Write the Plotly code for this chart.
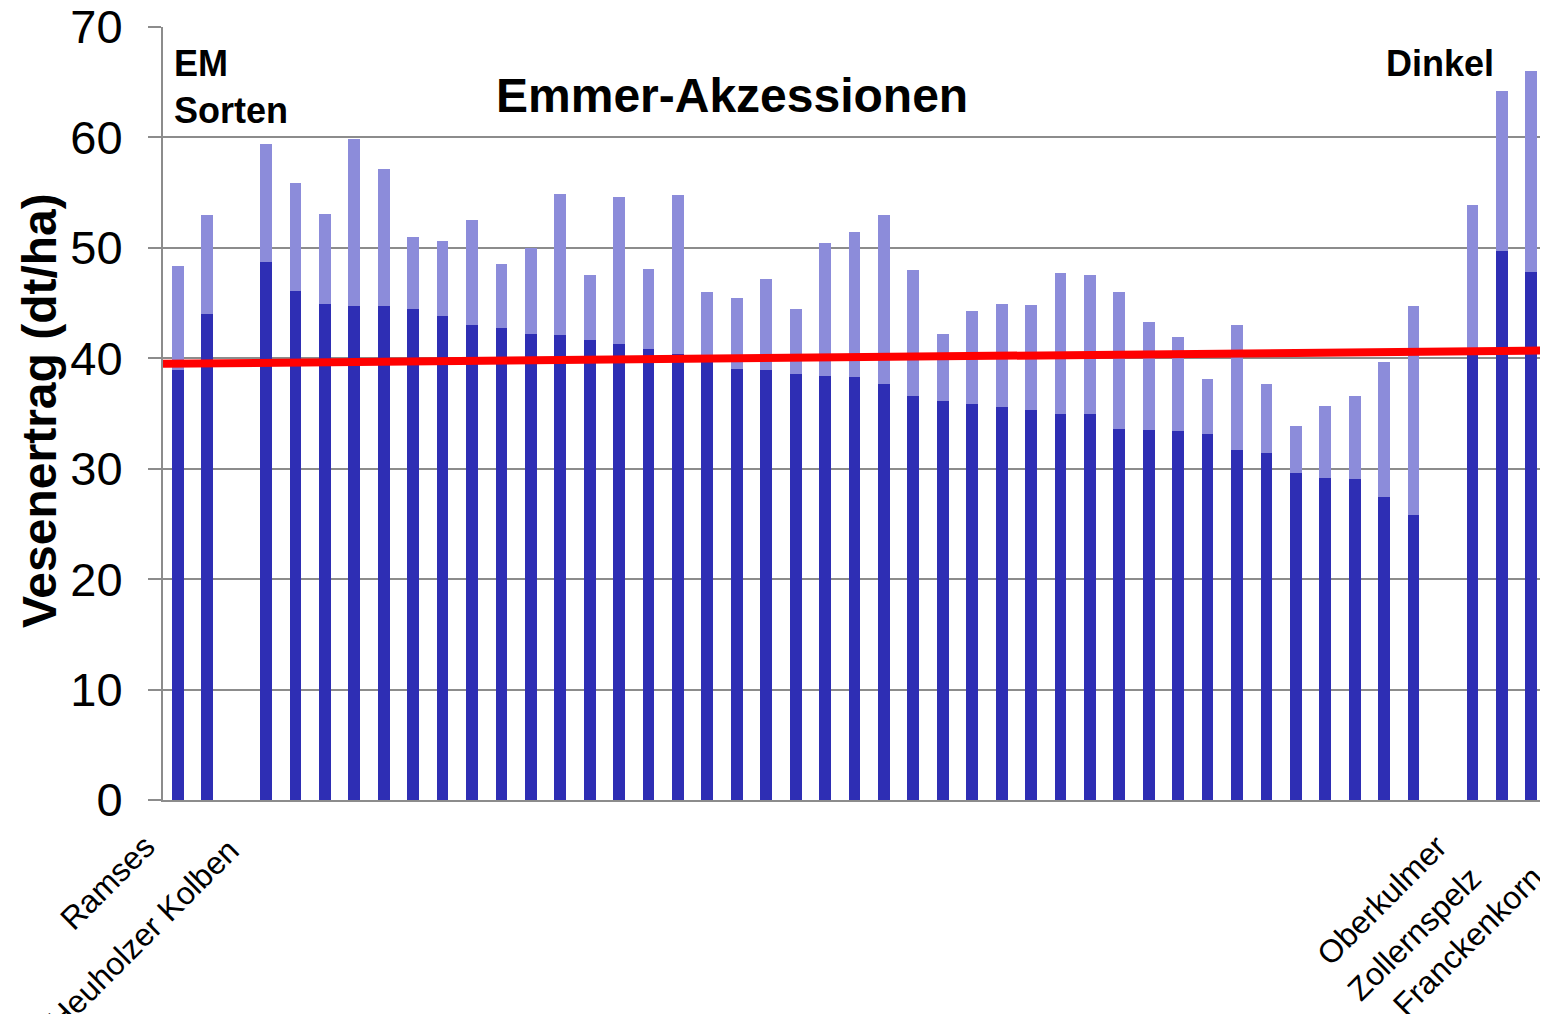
import plotly.graph_objects as go

# Sorten (EM)
sorten_names = ["Ramses", "Heuholzer Kolben"]
sorten_base = [38.9, 44.0]
sorten_total = [48.4, 53.0]

# Emmer-Akzessionen (40, unbenannt)
emmer_base = [48.7, 46.1, 44.9, 44.7, 44.7, 44.5, 43.8, 43.0, 42.7, 42.2,
              42.1, 41.7, 41.3, 40.8, 40.4, 40.0, 39.0, 38.9, 38.6, 38.4,
              38.3, 37.7, 36.6, 36.1, 35.9, 35.6, 35.3, 35.0, 35.0, 33.6,
              33.5, 33.4, 33.1, 31.7, 31.4, 29.6, 29.2, 29.1, 27.4, 25.8]
emmer_total = [59.4, 55.9, 53.1, 59.9, 57.1, 51.0, 50.6, 52.5, 48.5, 50.0,
               54.9, 47.5, 54.6, 48.1, 54.8, 46.0, 45.5, 47.2, 44.5, 50.4,
               51.4, 53.0, 48.0, 42.2, 44.3, 44.9, 44.8, 47.7, 47.5, 46.0,
               43.3, 41.9, 38.1, 43.0, 37.7, 33.9, 35.7, 36.6, 39.7, 44.7]

# Dinkel
dinkel_names = ["Oberkulmer", "Zollernspelz", "Franckenkorn"]
dinkel_base = [40.4, 49.7, 47.8]
dinkel_total = [53.9, 64.2, 66.0]

# red reference line (ends)
line_y = [39.5, 40.7]

y_ticks = [0, 10, 20, 30, 40, 50, 60, 70]

DARK = "#2E2EB4"
LIGHT = "#8C8CDA"
GRID = "#8C8C8C"
FONT = "Liberation Sans, Arial, sans-serif"

# page is drawn with the browser's 8px body margin
OFF = 8
W, H = 1548 - OFF, 1014 - OFF
PL, PR, PT, PB = 163, 1546, 27, 800  # plot area in page pixels


def pxx(x):
    return (x - PL) / (PR - PL)


def pxy(y):
    return (PB - y) / (PB - PT)


# slot positions: groups separated by one empty slot
groups = [sorten_base, emmer_base, dinkel_base]
xpos = []
start = 0
for g in groups:
    xpos += list(range(start, start + len(g)))
    start += len(g) + 1
n_slots = start - 1

base = sorten_base + emmer_base + dinkel_base
total = sorten_total + emmer_total + dinkel_total
top = [round(t - b, 1) for t, b in zip(total, base)]

fig = go.Figure()
fig.add_trace(go.Bar(x=xpos, y=base, width=0.4, marker_color=DARK,
                     marker_line_width=0, showlegend=False))
fig.add_trace(go.Bar(x=xpos, y=top, width=0.4, marker_color=LIGHT,
                     marker_line_width=0, showlegend=False))
fig.add_trace(go.Scatter(x=[-0.5, n_slots - 0.5], y=line_y, mode="lines",
                         line=dict(color="#FF0000", width=8), showlegend=False))

annotations = [
    dict(text="<b>EM<br>Sorten</b>", x=pxx(172), y=pxy(41), xanchor="left", yanchor="top",
         align="left", font=dict(size=36, color="black")),
    dict(text="<b>Emmer-Akzessionen</b>", x=pxx(732), y=pxy(96), xanchor="center",
         yanchor="middle", font=dict(size=48, color="black")),
    dict(text="<b>Dinkel</b>", x=pxx(1384), y=pxy(64), xanchor="left", yanchor="middle",
         font=dict(size=36, color="black")),
    dict(text="<b>Vesenertrag (dt/ha)</b>", x=pxx(40), y=pxy(411), textangle=-90,
         xanchor="center", yanchor="middle", font=dict(size=48, color="black")),
]

# rotated category labels (centres)
label_pos = {
    "Ramses": (107, 883),
    "Heuholzer Kolben": (143, 935),
    "Oberkulmer": (1382, 900),
    "Zollernspelz": (1414, 934),
    "Franckenkorn": (1468, 941),
}
for name in sorten_names + dinkel_names:
    cx, cy = label_pos[name]
    annotations.append(dict(text=name, x=pxx(cx), y=pxy(cy), textangle=-45,
                            xanchor="center", yanchor="middle",
                            font=dict(size=32, color="black")))

for a in annotations:
    a.update(xref="paper", yref="paper", showarrow=False)

fig.update_layout(
    width=W, height=H,
    margin=dict(l=PL - OFF, r=W - (PR - OFF), t=PT - OFF, b=H - (PB - OFF),
                autoexpand=False),
    barmode="stack",
    bargap=0.6,
    plot_bgcolor="white",
    paper_bgcolor="white",
    font=dict(family=FONT, color="black"),
    annotations=annotations,
    xaxis=dict(range=[-0.5, n_slots - 0.5], showticklabels=False, ticks="",
               showgrid=False, zeroline=False, showline=True, linecolor=GRID,
               linewidth=2),
    yaxis=dict(range=[0, 70], tickvals=y_ticks, ticks="outside", ticklen=13,
               tickwidth=2, tickcolor=GRID, showgrid=True, gridcolor=GRID,
               gridwidth=2, zeroline=False, showline=True, linecolor=GRID,
               linewidth=2, tickfont=dict(size=47, color="black"),
               ticklabelstandoff=16, ticklabeloverflow="allow"),
)

fig.write_html("out.html")
